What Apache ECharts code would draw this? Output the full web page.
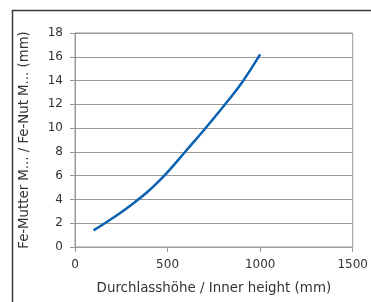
<!DOCTYPE html>
<html>
<head>
<meta charset="utf-8">
<script src="https://cdn.jsdelivr.net/npm/echarts@6/dist/echarts.min.js"></script>
</head>
<body style="margin:0;background:#fff">
<div id="container" style="width:371px;height:302px"></div>
<script>
// Durchlasshöhe (mm) vs Fe-Mutter (mm)
var innerHeight_mm = [100, 200, 300, 400, 500, 600, 700, 800, 900, 1000];
var nutSize_mm = [1.4, 2.4, 3.5, 4.75, 6.3, 8.1, 9.9, 11.8, 13.8, 16.2];

var chart = echarts.init(document.getElementById('container'));
var font = '"DejaVu Sans", sans-serif';

var option = {
    animation: false,
    graphic: [{
        type: 'rect',
        shape: {x: 12.5, y: 10.5, width: 400, height: 400},
        style: {fill: 'none', stroke: '#3a3a3a', lineWidth: 1.5}
    }],
    grid: {
        left: 75, right: 16, top: 33, bottom: 55,
        show: true, borderColor: '#999', borderWidth: 1
    },
    xAxis: {
        type: 'value', min: 0, max: 1500, interval: 500,
        name: 'Durchlasshöhe / Inner height (mm)',
        nameLocation: 'middle', nameGap: 35,
        nameTextStyle: {fontFamily: font, fontSize: 13.4, color: '#333'},
        axisLine: {lineStyle: {color: '#999'}},
        axisTick: {show: true, length: 5, lineStyle: {color: '#999'}},
        axisLabel: {fontFamily: font, fontSize: 12, color: '#333', margin: 12,
            formatter: function (v) { return String(v); }},
        splitLine: {show: false}
    },
    yAxis: {
        type: 'value', min: 0, max: 18, interval: 2,
        name: 'Fe-Mutter M... / Fe-Nut M... (mm)',
        nameLocation: 'middle', nameGap: 44,
        nameTextStyle: {fontFamily: font, fontSize: 13.3, color: '#333'},
        axisLine: {show: true, lineStyle: {color: '#999'}},
        axisTick: {show: true, length: 5, lineStyle: {color: '#999'}},
        axisLabel: {fontFamily: font, fontSize: 12, color: '#333', margin: 12},
        splitLine: {lineStyle: {color: '#999', width: 1}}
    },
    series: [{
        type: 'line',
        data: innerHeight_mm.map(function (x, i) { return [x, nutSize_mm[i]]; }),
        smooth: 0.4,
        showSymbol: false,
        lineStyle: {color: '#0a62b0', width: 2.5}
    }]
};
chart.setOption(option);
</script>
</body>
</html>
